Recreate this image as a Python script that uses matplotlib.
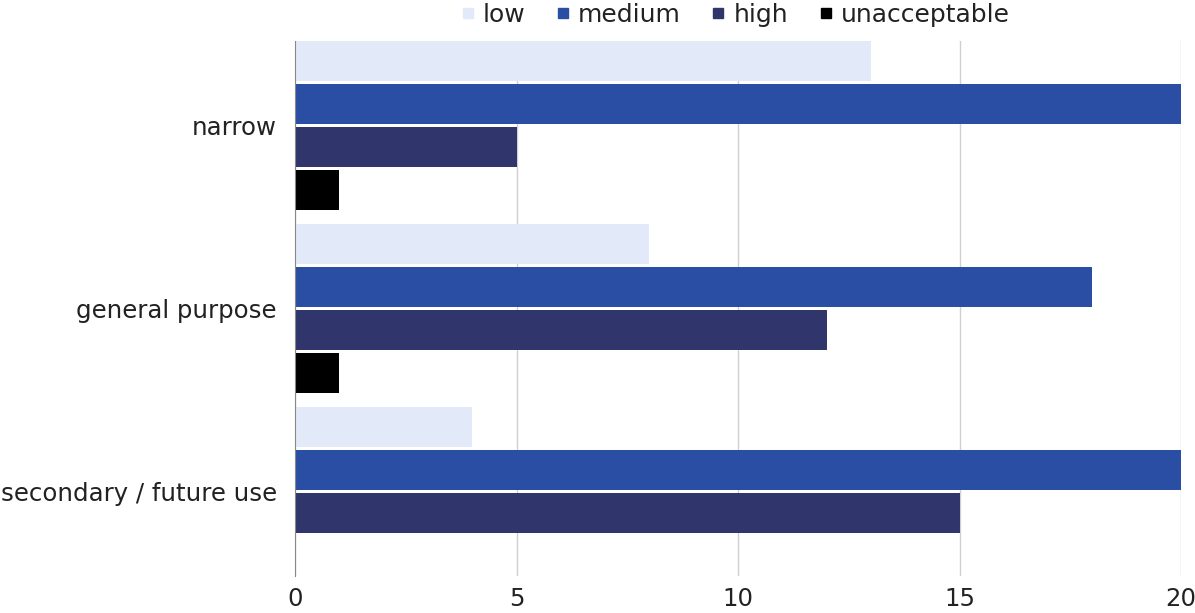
import numpy as np
import matplotlib.pyplot as plt

categories = ['narrow', 'general purpose', 'secondary / future use']
series = ['low', 'medium', 'high', 'unacceptable']
low = [13, 8, 4]
medium = [20, 18, 20]
high = [5, 12, 15]
unacceptable = [1, 1, 0]
colors = ['#e2e9f8', '#2a4ea3', '#30356b', '#000000']

plt.rcParams['font.family'] = ['DejaVu Sans']

fig = plt.figure(figsize=(11.95, 6.13), dpi=100)
ax = fig.add_axes([0.2469, 0.0604, 0.7414, 0.8727])

y = np.arange(len(categories))
step = 0.235
height = 0.221
for j, (name, vals) in enumerate(zip(series, [low, medium, high, unacceptable])):
    ax.barh(y + (j - 1.5) * step, vals, height=height, color=colors[j],
            label=name, zorder=3)

ax.set_ylim(2 + 1.5 * step + height / 2, -1.5 * step - height / 2)
ax.set_xlim(0, 20)
ax.set_xticks([0, 5, 10, 15, 20])
ax.set_yticks(y)
ax.set_yticklabels(categories)
ax.tick_params(length=0, labelsize=17.6, colors='#222222')
ax.tick_params(axis='y', pad=13)
ax.tick_params(axis='x', pad=8)
ax.grid(axis='x', color='#d0d0d0', linewidth=1, zorder=0)
for s in ['top', 'right', 'bottom']:
    ax.spines[s].set_visible(False)
ax.spines['left'].set_color('#888888')
ax.spines['left'].set_zorder(4)

handles = [plt.Line2D([], [], marker='s', linestyle='none', markersize=7,
                      color=c) for c in colors]
fig.legend(handles, series, loc='upper center', bbox_to_anchor=(0.615, 1.032),
           ncol=4, frameon=False, fontsize=18, handlelength=0.6,
           handletextpad=0.3, columnspacing=1.2, labelcolor='#222222')

fig.savefig('out.png')
